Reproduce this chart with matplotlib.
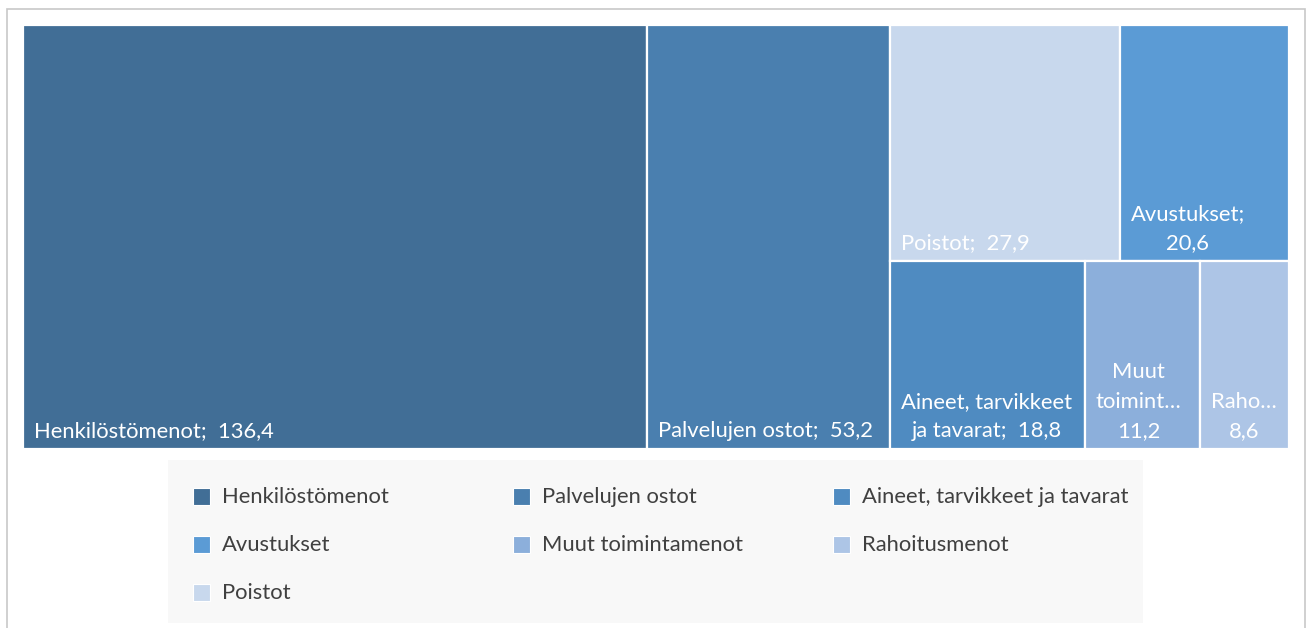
import matplotlib
matplotlib.use("Agg")
import matplotlib.pyplot as plt
from matplotlib.patches import Rectangle

plt.rcParams['font.family'] = ['Lato', 'DejaVu Sans']

# data (milj. e)
names = ["Henkilöstömenot", "Palvelujen ostot", "Aineet, tarvikkeet ja tavarat",
         "Avustukset", "Muut toimintamenot", "Rahoitusmenot", "Poistot"]
values = [136.4, 53.2, 18.8, 20.6, 11.2, 8.6, 27.9]
colors = ["#416E96", "#4A7FAF", "#4F8BC1", "#5B9BD5", "#8CAFDB", "#ADC5E6", "#C8D8ED"]
# labels as shown in the boxes (truncated like excel does)
box_labels = ["Henkilöstömenot;  136,4", "Palvelujen ostot;  53,2",
              "Aineet, tarvikkeet\nja tavarat;  18,8", "Avustukset;\n20,6",
              "Muut\ntoimint…\n11,2", "Raho…\n8,6", "Poistot;  27,9"]

# layout: two big columns, then a column split into two rows
rest_rows = [[6, 3], [2, 4, 5]]

W, H = 1306, 628
fig = plt.figure(figsize=(W / 100, H / 100), dpi=100)
fig.add_artist(Rectangle((7 / W, -0.1), 1298 / W, 1.1 - 9 / H, transform=fig.transFigure,
                         fill=False, edgecolor="#C8C8C8", lw=1.2))

ax = fig.add_axes([23 / W, 1 - 449 / H, 1266 / W, 424 / H])
total = sum(values)
ax.set_xlim(0, total)
ax.set_ylim(1, 0)
ax.axis("off")

rects = {}
x0 = 0
for idx in [0, 1]:
    rects[idx] = (x0, 0, values[idx], 1)
    x0 += values[idx]
rest_total = sum(values[i] for r in rest_rows for i in r)
rw = total - x0
y0 = 0
for row in rest_rows:
    rsum = sum(values[i] for i in row)
    rh = rsum / rest_total
    xx = x0
    for i in row:
        w = values[i] / rsum * rw
        rects[i] = (xx, y0, w, rh)
        xx += w
    y0 += rh

for i, (x, y, w, h) in rects.items():
    ax.add_patch(Rectangle((x, y), w, h, facecolor=colors[i], edgecolor="white", lw=1.6))
    ax.annotate(box_labels[i], xy=(x, y + h), xytext=(11, 8), textcoords="offset pixels",
                ha="left", va="bottom", multialignment="center", color="white",
                fontsize=15.8, linespacing=1.58)

# legend
lax = fig.add_axes([168 / W, 1 - 623 / H, 975 / W, 163 / H])
lax.set_xlim(0, 975)
lax.set_ylim(163, 0)
lax.axis("off")
lax.add_patch(Rectangle((0, 0), 975, 163, facecolor="#F8F8F8", edgecolor="none"))
for k, name in enumerate(names):
    r, c = divmod(k, 3)
    lx = 25 + c * 320
    ly = 37 + r * 48
    lax.add_patch(Rectangle((lx, ly - 9), 17, 17, facecolor=colors[k], edgecolor="white", lw=0.8))
    lax.text(lx + 29, ly, name, va="center", ha="left", fontsize=15.8, color="#404040")

fig.savefig("out.png", dpi=100)
